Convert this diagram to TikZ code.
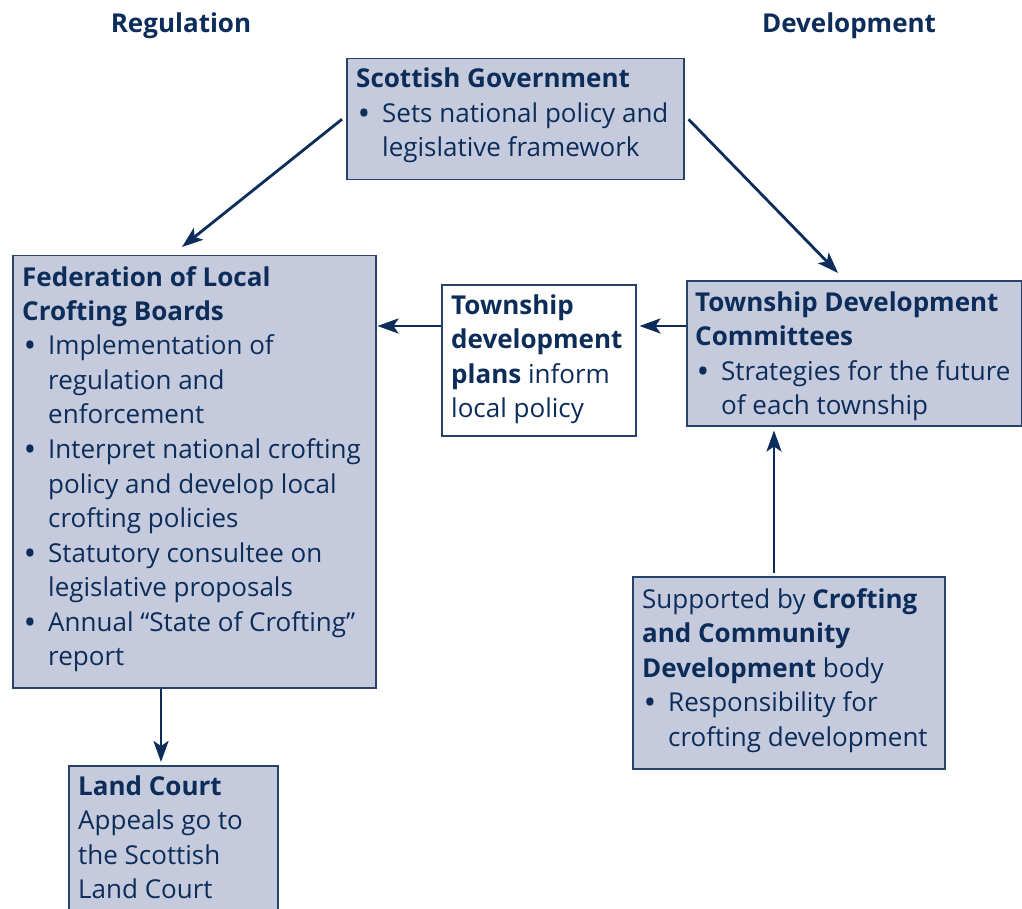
\documentclass[tikz,border=0pt]{standalone}
\usepackage{fontspec}
\setmainfont{Open Sans}
\usetikzlibrary{arrows.meta,calc}
\definecolor{navy}{RGB}{12,44,90}
\definecolor{boxfill}{RGB}{197,203,221}
\definecolor{boxline}{RGB}{40,66,110}
\newcommand\bl{\makebox[26pt][l]{\hspace*{3pt}\textbf{•}}}
\newcommand\ind{\hspace*{26pt}}
\begin{document}
\begin{tikzpicture}[x=1pt,y=-1pt,
 box/.style={draw=boxline, line width=1.5pt, fill=boxfill, inner sep=0pt, anchor=north west},
 wbox/.style={box, fill=white},
 txt/.style={anchor=base west, inner sep=0pt, text=navy, font=\fontsize{26}{34.5}\selectfont},
 hdr/.style={anchor=base, inner sep=0pt, text=navy, font=\bfseries\fontsize{26}{34.5}\selectfont},
 arr/.style={draw=navy, line width=2.8pt, -{Stealth[length=21pt,width=15pt,inset=5pt]}}]
\clip (0,0) rectangle (1022,909);
\fill[white] (0,0) rectangle (1022,909);

\node[hdr] (reg) at (181,33) {Regulation};
\node[hdr] (dev) at (849,33) {Development};

\node[box, minimum width=337, minimum height=121] (sg) at (346,58) {};
\node[txt] (sgt) at (356,88) {\begin{tabular}[t]{@{}l@{}}\textbf{Scottish Government}\\ \bl Sets national policy and\\ \ind legislative framework\end{tabular}};

\node[box, minimum width=363, minimum height=432] (fed) at (12,255) {};
\node[txt] (fedt) at (22,286) {\begin{tabular}[t]{@{}l@{}}\textbf{Federation of Local}\\ \textbf{Crofting Boards}\\
\bl Implementation of\\ \ind regulation and\\ \ind enforcement\\
\bl Interpret national crofting\\ \ind policy and develop local\\ \ind crofting policies\\
\bl Statutory consultee on\\ \ind legislative proposals\\
\bl Annual “State of Crofting”\\ \ind report\end{tabular}};

\node[wbox, minimum width=194, minimum height=151] (tdp) at (441,284) {};
\node[txt] (tdpt) at (451,314) {\begin{tabular}[t]{@{}l@{}}\textbf{Township}\\ \textbf{development}\\ \textbf{plans} inform\\ local policy\end{tabular}};

\node[box, minimum width=335, minimum height=145] (tdc) at (686,280) {};
\node[txt] (tdct) at (695,311) {\begin{tabular}[t]{@{}l@{}}\textbf{Township Development}\\ \textbf{Committees}\\ \bl Strategies for the future\\ \ind of each township\end{tabular}};

\node[box, minimum width=312, minimum height=192] (sup) at (632,576) {};
\node[txt] (supt) at (642,608) {\begin{tabular}[t]{@{}l@{}}Supported by \textbf{Crofting}\\ \textbf{and Community}\\ \textbf{Development} body\\ \bl Responsibility for\\ \ind crofting development\end{tabular}};

\node[box, minimum width=209, minimum height=160] (lc) at (68,765) {};
\node[txt] (lct) at (78,795) {\begin{tabular}[t]{@{}l@{}}\textbf{Land Court}\\ Appeals go to\\ the Scottish\\ Land Court\end{tabular}};

\coordinate (ay) at (0,326);
\coordinate (vx) at (774,0);
\coordinate (dx) at (161,0);
\draw[arr] ([xshift=-4pt]sg.west) -- ($(fed.north west)+(170,-8)$);
\draw[arr] ([xshift=4pt]sg.east) -- ($(tdc.north west)+(152,-7)$);
\draw[arr, shorten >=1pt] (tdp.west |- ay) -- (fed.east |- ay);
\draw[arr, shorten >=3pt] (tdc.west |- ay) -- (tdp.east |- ay);
\draw[arr, shorten <=3pt, shorten >=4pt] (sup.north -| vx) -- (tdc.south -| vx);
\draw[arr, shorten >=3pt] (fed.south -| dx) -- (lc.north -| dx);
\end{tikzpicture}
\end{document}
